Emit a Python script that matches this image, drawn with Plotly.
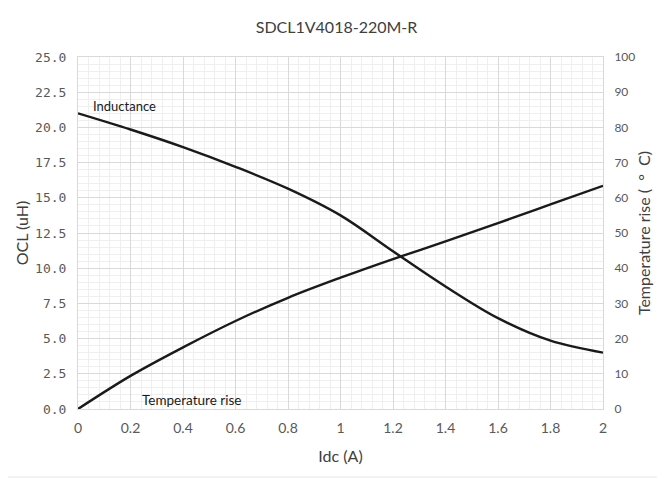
import plotly.graph_objects as go

idc = [0, 0.2, 0.4, 0.6, 0.8, 1.0, 1.2, 1.4, 1.6, 1.8, 2.0]
inductance = [21.0, 19.85, 18.6, 17.2, 15.65, 13.75, 11.2, 8.7, 6.45, 4.85, 4.0]
temp_rise = [0, 9.4, 17.5, 25.0, 31.6, 37.3, 42.6, 47.6, 52.8, 58.1, 63.4]

title = "SDCL1V4018-220M-R"
left_ticks = [0, 2.5, 5, 7.5, 10, 12.5, 15, 17.5, 20, 22.5, 25]
left_tick_text = ["0.0", "2.5", "5.0", "7.5", "10.0", "12.5", "15.0", "17.5", "20.0", "22.5", "25.0"]
x_ticks = [0, 0.2, 0.4, 0.6, 0.8, 1.0, 1.2, 1.4, 1.6, 1.8, 2.0]
x_tick_text = ["0", "0.2", "0.4", "0.6", "0.8", "1", "1.2", "1.4", "1.6", "1.8", "2"]

fig = go.Figure()
fig.add_trace(go.Scatter(x=idc, y=inductance, mode="lines", line=dict(color="#1a1a1a", width=2.4, shape="spline"),
                         name="Inductance", showlegend=False))
fig.add_trace(go.Scatter(x=idc, y=temp_rise, mode="lines", yaxis="y2", line=dict(color="#1a1a1a", width=2.4, shape="spline"),
                         name="Temperature rise", showlegend=False))

grid_major = "#d9d9d9"
grid_minor = "#efefef"
tick_col = "#595959"

W, H = 657, 473
fig.update_layout(
    width=W, height=H,
    margin=dict(l=70, r=62, t=49, b=72, autoexpand=False),
    paper_bgcolor="white", plot_bgcolor="white",
    title=dict(text=title, x=0.5, xanchor="center", y=1 - 19 / H, yanchor="middle", automargin=False,
               font=dict(family="Lato", size=16, color="#404040")),
    xaxis=dict(range=[0, 2], tickvals=x_ticks, ticktext=x_tick_text, automargin=False,
               showgrid=True, gridcolor=grid_major, gridwidth=1,
               minor=dict(dtick=0.04, showgrid=True, gridcolor=grid_minor, gridwidth=1),
               zeroline=False, showline=True, linecolor=grid_major, mirror=True,
               ticks="outside", ticklen=6, tickcolor="rgba(0,0,0,0)",
               tickfont=dict(family="Lato", size=14, color=tick_col),
               title=dict(text="Idc (A)", font=dict(family="Lato", size=16, color="#404040"), standoff=16)),
    yaxis=dict(range=[0, 25], tickvals=left_ticks, ticktext=left_tick_text, automargin=False,
               showgrid=True, gridcolor=grid_major, gridwidth=1,
               minor=dict(dtick=0.5, showgrid=True, gridcolor=grid_minor, gridwidth=1),
               zeroline=False, showline=True, linecolor=grid_major,
               ticks="outside", ticklen=8, tickcolor="rgba(0,0,0,0)",
               tickfont=dict(family="DejaVu Sans Mono", size=13, color=tick_col),
               title=dict(text="OCL (uH)", font=dict(family="Lato", size=16, color="#404040"), standoff=2)),
    yaxis2=dict(range=[0, 100], dtick=10, overlaying="y", side="right", automargin=False,
                showgrid=False, zeroline=False, showline=True, linecolor=grid_major,
                ticks="outside", ticklen=8, tickcolor="rgba(0,0,0,0)",
                tickfont=dict(family="Lato", size=12, color=tick_col),
                title=dict(text="Temperature rise (  °  C)", font=dict(family="Lato", size=16, color="#404040"), standoff=4)),
    annotations=[
        dict(x=0.05, y=(409 - 106) / 352 * 25, xref="x", yref="y", text="Inductance", showarrow=False,
             xanchor="left", yanchor="middle", font=dict(family="Lato", size=13, color="#1a1a1a")),
        dict(x=0.235, y=(409 - 400) / 352 * 25, xref="x", yref="y", text="Temperature rise", showarrow=False,
             xanchor="left", yanchor="middle", font=dict(family="Lato", size=13.5, color="#1a1a1a")),
    ],
    shapes=[
        dict(type="rect", xref="paper", yref="paper",
             x0=-74 / 525, x1=(661 - 78) / 525, y0=(409 - 477) / 352, y1=(409 - 5) / 352,
             line=dict(color="#e6e6e6", width=1), fillcolor="rgba(0,0,0,0)", layer="below"),
    ],
)

fig.write_html("out.html")
